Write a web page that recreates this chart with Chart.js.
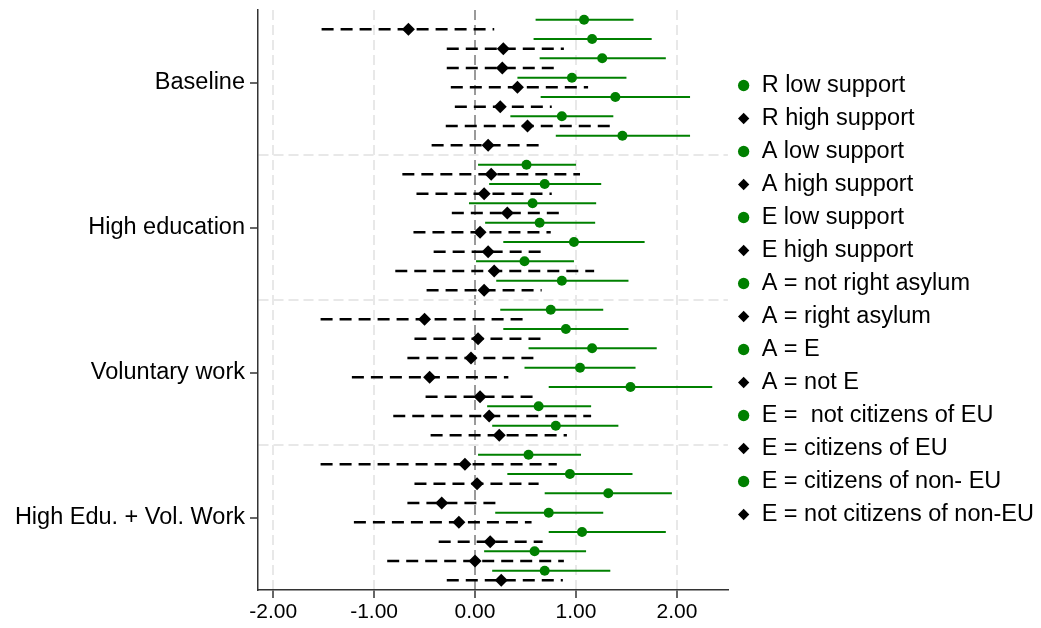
<!DOCTYPE html>
<html>
<head>
<meta charset="utf-8">
<script src="https://cdn.jsdelivr.net/npm/chart.js@4/dist/chart.umd.min.js"></script>
<style>
  html, body { margin: 0; padding: 0; background: #fff; }
  #wrap { width: 1041px; height: 628px; }
</style>
</head>
<body>
<div id="wrap"><canvas id="myChart" width="1041" height="628"></canvas></div>
<script>
// grupos del eje y y nombres de las series (leyenda)
const grupos = ["Baseline", "High education", "Voluntary work", "High Edu. + Vol. Work"];
const series = [
  "R low support", "R high support", "A low support", "A high support",
  "E low support", "E high support", "A = not right asylum", "A = right asylum",
  "A = E", "A = not E", "E =  not citizens of EU", "E = citizens of EU",
  "E = citizens of non- EU", "E = not citizens of non-EU"
];
const xTicks = [-2, -1, 0, 1, 2];

// estimaciones e intervalos, un arreglo por grupo (14 series cada uno)
const baselineEst = [1.08, -0.66, 1.16, 0.28, 1.26, 0.27, 0.96, 0.42, 1.39, 0.25, 0.86, 0.52, 1.46, 0.13];
const baselineLo  = [0.60, -1.52, 0.58, -0.28, 0.64, -0.28, 0.42, -0.24, 0.65, -0.20, 0.35, -0.29, 0.80, -0.43];
const baselineHi  = [1.57, 0.19, 1.75, 0.88, 1.89, 0.83, 1.50, 1.12, 2.13, 0.76, 1.37, 1.34, 2.13, 0.67];

const educEst = [0.51, 0.16, 0.69, 0.09, 0.57, 0.32, 0.64, 0.05, 0.98, 0.13, 0.49, 0.19, 0.86, 0.09];
const educLo  = [0.03, -0.72, 0.14, -0.58, -0.06, -0.23, 0.10, -0.61, 0.28, -0.41, 0.01, -0.79, 0.21, -0.48];
const educHi  = [1.00, 1.04, 1.25, 0.76, 1.20, 0.87, 1.19, 0.75, 1.68, 0.67, 0.98, 1.18, 1.52, 0.66];

const volEst = [0.75, -0.50, 0.90, 0.03, 1.16, -0.04, 1.04, -0.45, 1.54, 0.05, 0.63, 0.14, 0.80, 0.24];
const volLo  = [0.25, -1.53, 0.28, -0.60, 0.53, -0.67, 0.49, -1.22, 0.73, -0.49, 0.12, -0.81, 0.17, -0.44];
const volHi  = [1.27, 0.53, 1.52, 0.66, 1.80, 0.61, 1.59, 0.33, 2.35, 0.60, 1.15, 1.15, 1.42, 0.91];

const bothEst = [0.53, -0.10, 0.94, 0.02, 1.32, -0.33, 0.73, -0.16, 1.06, 0.15, 0.59, 0.00, 0.69, 0.26];
const bothLo  = [0.03, -1.53, 0.32, -0.60, 0.69, -0.67, 0.20, -1.20, 0.73, -0.36, 0.09, -0.87, 0.17, -0.28];
const bothHi  = [1.05, 0.81, 1.56, 0.63, 1.95, 0.26, 1.27, 0.56, 1.89, 0.67, 1.10, 0.88, 1.34, 0.87];

const est = [baselineEst, educEst, volEst, bothEst];
const lo = [baselineLo, educLo, volLo, bothLo];
const hi = [baselineHi, educHi, volHi, bothHi];

const verde = "#008000";
const negro = "#000000";
const paso = 15; // filas por grupo (14 + hueco)
const separadores = [14, 29, 44];
const centros = grupos.map((g, i) => i * paso + 6.5);

Chart.defaults.font.family = "'Liberation Sans', Arial, sans-serif";
Chart.defaults.color = "#000";

const datasets = [];
// puntos (van en la leyenda)
series.forEach((nombre, s) => {
  const esVerde = s % 2 === 0;
  datasets.push({
    label: nombre,
    data: grupos.map((g, i) => ({ x: est[i][s], y: i * paso + s })),
    backgroundColor: esVerde ? verde : negro,
    borderColor: esVerde ? verde : negro,
    borderWidth: 0,
    pointStyle: esVerde ? "circle" : "rectRot",
    pointRadius: esVerde ? 5 : 6.5,
    showLine: false,
    order: 0
  });
});
// intervalos de confianza
series.forEach((nombre, s) => {
  const esVerde = s % 2 === 0;
  grupos.forEach((g, i) => {
    datasets.push({
      label: "ci",
      data: [{ x: lo[i][s], y: i * paso + s }, { x: hi[i][s], y: i * paso + s }],
      borderColor: esVerde ? verde : negro,
      borderWidth: esVerde ? 2 : 2.5,
      borderDash: esVerde ? [] : [12, 7],
      pointRadius: 0,
      showLine: true,
      order: 1
    });
  });
});

const ctx = document.getElementById("myChart").getContext("2d");
new Chart(ctx, {
  type: "scatter",
  data: { datasets },
  options: {
    responsive: false,
    animation: false,
    layout: { padding: { top: 10, right: -3, left: 0, bottom: 0 } },
    plugins: {
      tooltip: { enabled: false },
      legend: {
        position: "right",
        align: "center",
        fullSize: false,
        maxWidth: 420,
        labels: {
          filter: (item) => item.text !== "ci",
          usePointStyle: true,
          boxWidth: 12.5,
          boxHeight: 8,
          padding: 9.5,
          color: "#000",
          font: { size: 23.5 }
        }
      }
    },
    scales: {
      x: {
        type: "linear",
        min: -2.15,
        max: 2.505,
        afterBuildTicks: (scale) => { scale.ticks = xTicks.map(v => ({ value: v })); },
        afterFit: (scale) => {
          scale.height = 38;
          scale.paddingLeft = 0;
          scale.paddingRight = 0;
        },
        ticks: {
          callback: (v) => Number(v).toFixed(2),
          padding: 2,
          color: "#000",
          font: { size: 21 }
        },
        grid: {
          color: (c) => (c.tick && c.tick.value === 0 ? "#9a9a9a" : "#e8e8e8"),
          lineWidth: 2,
          tickColor: "#333",
          tickLength: 8,
          tickWidth: 1.5
        },
        border: { display: true, color: "#333", width: 1.5, dash: [10, 5] }
      },
      y: {
        type: "linear",
        reverse: true,
        min: -1,
        max: 59,
        afterBuildTicks: (scale) => {
          scale.ticks = centros.concat(separadores).map(v => ({ value: v }));
        },
        afterFit: (scale) => {
          scale.width = 258;
          scale.paddingTop = 0;
          scale.paddingBottom = 0;
        },
        ticks: {
          autoSkip: false,
          padding: 5,
          color: "#000",
          font: { size: 23.5 },
          callback: (v) => {
            const i = centros.indexOf(v);
            return i >= 0 ? grupos[i] : "";
          }
        },
        grid: {
          color: (c) => (c.tick && separadores.includes(c.tick.value) ? "#e8e8e8" : "rgba(0,0,0,0)"),
          lineWidth: 2,
          tickColor: (c) => (c.tick && separadores.includes(c.tick.value) ? "rgba(0,0,0,0)" : "#333"),
          tickLength: 8,
          tickWidth: 1.5
        },
        border: { display: true, color: "#333", width: 1.5, dash: [10, 5] }
      }
    }
  }
});
</script>
</body>
</html>
